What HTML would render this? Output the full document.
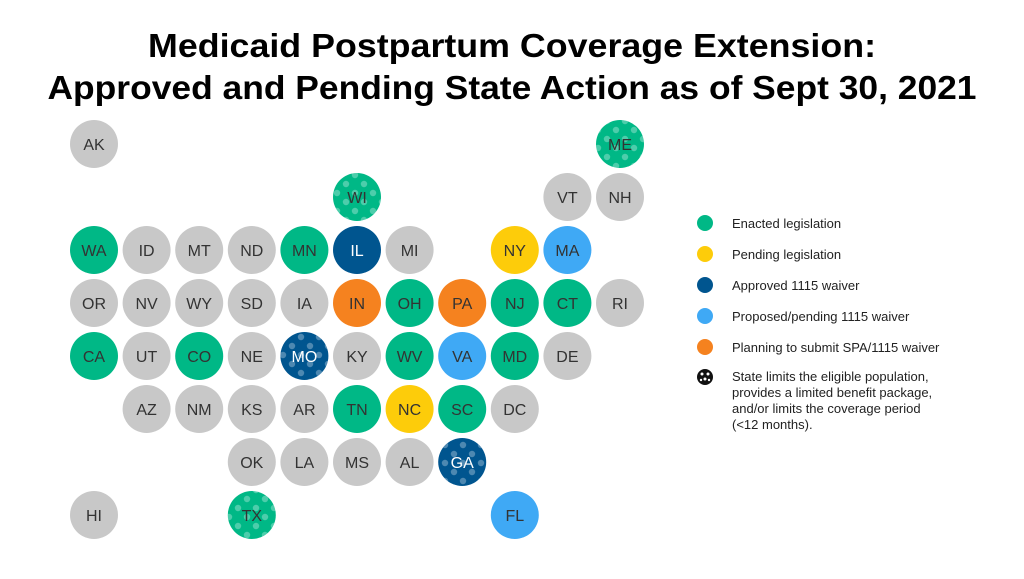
<!DOCTYPE html>
<html><head><meta charset="utf-8"><style>
body{margin:0;background:#fff;width:1024px;height:574px;overflow:hidden;font-family:"Liberation Sans",sans-serif}
</style></head><body>
<svg width="1024" height="574">
<defs>
<pattern id="dots" width="18" height="18" patternUnits="userSpaceOnUse">
<circle cx="4" cy="4" r="3.2" fill="#fff" opacity="0.3"/>
<circle cx="13" cy="13" r="3.2" fill="#fff" opacity="0.3"/>
</pattern>
</defs>
<text x="512" y="57" text-anchor="middle" font-size="33" font-weight="bold" fill="#000" textLength="728" lengthAdjust="spacingAndGlyphs">Medicaid Postpartum Coverage Extension:</text>
<text x="512" y="99" text-anchor="middle" font-size="33" font-weight="bold" fill="#000" textLength="929" lengthAdjust="spacingAndGlyphs">Approved and Pending State Action as of Sept 30, 2021</text>
<g id="map"></g>
<g id="legend"></g>
</svg>
<script>
const states=["AK","ME","WI","VT","NH","WA","ID","MT","ND","MN","IL","MI","NY","MA","OR","NV","WY","SD","IA","IN","OH","PA","NJ","CT","RI","CA","UT","CO","NE","MO","KY","WV","VA","MD","DE","AZ","NM","KS","AR","TN","NC","SC","DC","OK","LA","MS","AL","GA","HI","TX","FL"];
const cols=[0,10,5,9,10,0,1,2,3,4,5,6,8,9,0,1,2,3,4,5,6,7,8,9,10,0,1,2,3,4,5,6,7,8,9,1,2,3,4,5,6,7,8,3,4,5,6,7,0,3,8];
const rows=[0,0,1,1,1,2,2,2,2,2,2,2,2,2,3,3,3,3,3,3,3,3,3,3,3,4,4,4,4,4,4,4,4,4,4,5,5,5,5,5,5,5,5,6,6,6,6,6,7,7,7];
// 0 none,1 enacted,2 pending leg,3 approved waiver,4 proposed waiver,5 planning
const status=[0,1,1,0,0,1,0,0,0,1,3,0,2,4,0,0,0,0,0,5,1,5,1,1,0,1,0,1,0,3,0,1,4,1,0,0,0,0,0,1,2,1,0,0,0,0,0,3,0,1,4];
const limited=["ME","WI","MO","GA","TX"];
const legendLabels=["Enacted legislation","Pending legislation","Approved 1115 waiver","Proposed/pending 1115 waiver","Planning to submit SPA/1115 waiver"];
const colors=["#c8c8c8","#00b886","#fdcc0a","#00558f","#3fa9f5","#f5821f"];
const ns="http://www.w3.org/2000/svg";
const x=c=>94+c*52.6, y=r=>144+r*53;
const map=document.getElementById("map");
states.forEach((s,i)=>{
 const g=document.createElementNS(ns,"g");
 
 
 const c=document.createElementNS(ns,"circle");
 c.setAttribute("cx",x(cols[i]));c.setAttribute("cy",y(rows[i]));c.setAttribute("r",24);c.setAttribute("fill",colors[status[i]]);
 g.appendChild(c);
 if(limited.includes(s)){const d=document.createElementNS(ns,"circle");
 d.setAttribute("cx",x(cols[i]));d.setAttribute("cy",y(rows[i]));d.setAttribute("r",24);d.setAttribute("fill","url(#dots)");g.appendChild(d);}
 const t=document.createElementNS(ns,"text");
 t.setAttribute("x",x(cols[i]));t.setAttribute("y",y(rows[i])+6);t.setAttribute("text-anchor","middle");t.setAttribute("font-size","16");
 t.setAttribute("fill",status[i]===3?"#fff":"#333");t.textContent=s;g.appendChild(t);
 map.appendChild(g);
});
const lg=document.getElementById("legend");
legendLabels.forEach((l,i)=>{
 const g=document.createElementNS(ns,"g");
 
 
 const yy=223+i*31;
 g.innerHTML=`<circle cx="705" cy="${yy}" r="8" fill="${colors[i+1]}"/><text x="732" y="${yy+5}" font-size="13" fill="#222">${l}</text>`;
 lg.appendChild(g);
});
const g=document.createElementNS(ns,"g");


g.innerHTML=`<circle cx="705" cy="377" r="8" fill="#111"/><circle cx="702" cy="374" r="1.5" fill="#fff"/><circle cx="708" cy="374" r="1.5" fill="#fff"/><circle cx="705" cy="379" r="1.5" fill="#fff"/><circle cx="701" cy="380" r="1.2" fill="#fff"/><circle cx="709" cy="380" r="1.2" fill="#fff"/>
<text font-size="13" fill="#222"><tspan x="732" y="381">State limits the eligible population,</tspan><tspan x="732" y="397">provides a limited benefit package,</tspan><tspan x="732" y="413">and/or limits the coverage period</tspan><tspan x="732" y="429">(&lt;12 months).</tspan></text>`;
lg.appendChild(g);
</script>
</body></html>
